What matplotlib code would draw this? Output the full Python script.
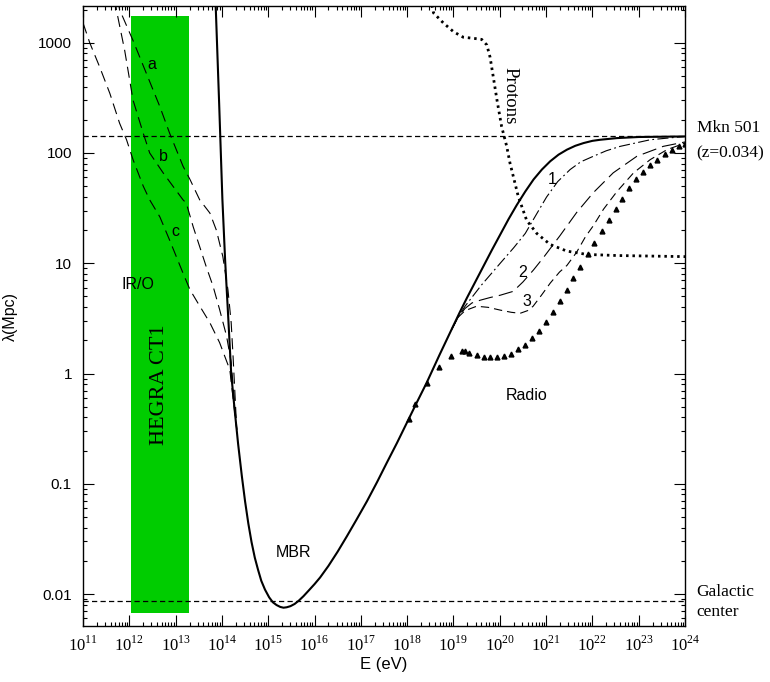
import numpy as np
import matplotlib.pyplot as plt
from matplotlib.ticker import FixedLocator, LogLocator, NullFormatter

plt.rcParams['font.family'] = 'Liberation Sans'
plt.rcParams['mathtext.fontset'] = 'custom'
plt.rcParams['mathtext.rm'] = 'Liberation Serif'

# ---------------- data: log10(E / eV) and log10(lambda / Mpc) ----------------
mbr_logE = [13.86, 13.94, 14.01, 14.07, 14.14, 14.20, 14.27, 14.35, 14.43, 14.50, 14.57, 14.64,
            14.71, 14.78, 14.85, 14.93, 15.02, 15.10, 15.18, 15.26, 15.33, 15.40, 15.48, 15.57,
            15.66, 15.76, 15.87, 16.0, 16.12, 16.3, 16.5, 16.7, 16.9, 17.13, 17.35, 17.56,
            17.78, 17.99, 18.2, 18.42, 18.7, 18.96, 19.13, 19.29, 19.47, 19.65, 19.83, 20.01,
            20.19, 20.37, 20.55, 20.73, 20.91, 21.09, 21.27, 21.45, 21.63, 21.81, 22.0, 22.17,
            22.53, 23.0, 24.0]
mbr_logL = [3.40, 2.45, 1.58, 1.02, 0.48, 0.00, -0.31, -0.64, -0.93, -1.16, -1.36, -1.53,
            -1.67, -1.78, -1.88, -1.96, -2.03, -2.075, -2.10, -2.117, -2.124, -2.12, -2.11, -2.09,
            -2.06, -2.02, -1.97, -1.91, -1.85, -1.745, -1.615, -1.475, -1.33, -1.16, -0.985, -0.81,
            -0.63, -0.45, -0.27, -0.085, 0.17, 0.40, 0.55, 0.685, 0.83, 0.975, 1.12, 1.26,
            1.40, 1.53, 1.65, 1.76, 1.85, 1.925, 1.985, 2.03, 2.065, 2.09, 2.11, 2.12,
            2.135, 2.145, 2.15]

# IR/O curves a, b, c
a_logE = [11.75, 11.79, 12.08, 12.37, 12.66, 12.87, 13.16, 13.31, 13.52, 13.74, 13.88, 14.02,
          14.13, 14.20, 14.24, 14.32]
a_logL = [3.40, 3.30, 3.02, 2.72, 2.42, 2.18, 1.88, 1.76, 1.575, 1.455, 1.30, 1.06,
          0.76, 0.46, 0.16, -0.51]
b_logE = [11.70, 11.72, 11.90, 12.08, 12.30, 12.44, 12.73, 12.94, 13.16, 13.23, 13.38, 13.52,
          13.66, 13.81, 13.95, 14.10, 14.20, 14.32]
b_logL = [3.40, 3.30, 2.93, 2.48, 2.18, 2.00, 1.82, 1.70, 1.575, 1.545, 1.33, 1.15,
          0.97, 0.79, 0.58, 0.34, 0.10, -0.51]
c_logE = [11.0, 11.145, 11.36, 11.58, 11.79, 11.94, 12.08, 12.30, 12.44, 12.66, 12.87, 13.16,
          13.31, 13.48, 13.74, 13.95, 14.17, 14.32]
c_logL = [3.18, 3.00, 2.78, 2.54, 2.27, 2.12, 1.94, 1.70, 1.575, 1.42, 1.21, 0.91,
          0.76, 0.64, 0.46, 0.28, 0.035, -0.51]

# radio background curves 1, 2, 3
r1_logE = [18.96, 19.1, 19.25, 19.6, 20.01, 20.3, 20.55, 20.8, 21.01, 21.25, 21.52, 21.75,
           22.02, 22.3, 22.6, 23.25, 24.0]
r1_logL = [0.40, 0.51, 0.61, 0.80, 1.00, 1.14, 1.27, 1.45, 1.60, 1.74, 1.85, 1.92,
           1.97, 2.02, 2.06, 2.12, 2.15]
r2_logE = [18.96, 19.1, 19.25, 19.4, 19.58, 19.8, 20.01, 20.29, 20.5, 20.73, 20.94, 21.12,
           21.30, 21.66, 22.02, 22.45, 22.96, 23.53, 24.0]
r2_logL = [0.40, 0.51, 0.59, 0.64, 0.665, 0.69, 0.71, 0.745, 0.83, 0.94, 1.05, 1.15,
           1.25, 1.46, 1.64, 1.82, 1.97, 2.06, 2.10]
r3_logE = [18.96, 19.1, 19.25, 19.5, 19.75, 20.01, 20.25, 20.44, 20.6, 20.72, 20.9, 21.09,
           21.29, 21.45, 21.66, 21.85, 22.02, 22.24, 22.53, 22.89, 23.25, 23.61, 24.0]
r3_logL = [0.40, 0.51, 0.57, 0.61, 0.60, 0.575, 0.555, 0.546, 0.57, 0.61, 0.71, 0.82,
           0.92, 0.98, 1.10, 1.24, 1.34, 1.49, 1.65, 1.82, 1.94, 2.03, 2.09]

# radio (triangles)
tri_logE = [18.03, 18.17, 18.42, 18.69, 18.94, 19.19, 19.24, 19.34, 19.50, 19.65, 19.79, 19.94,
            20.10, 20.25, 20.40, 20.54, 20.69, 20.84, 20.99, 21.14, 21.29, 21.45, 21.59, 21.74,
            21.90, 22.04, 22.20, 22.35, 22.50, 22.65, 22.80, 22.94, 23.09, 23.25, 23.39, 23.57,
            23.71, 23.86, 24.0]
tri_logL = [-0.41, -0.28, -0.09, 0.06, 0.16, 0.20, 0.20, 0.19, 0.17, 0.15, 0.15, 0.15,
            0.16, 0.18, 0.22, 0.26, 0.32, 0.39, 0.47, 0.56, 0.66, 0.76, 0.87, 0.97,
            1.08, 1.18, 1.29, 1.39, 1.49, 1.58, 1.68, 1.76, 1.83, 1.89, 1.94, 1.99,
            2.03, 2.06, 2.08]

# protons
p_logE = [18.50, 18.57, 18.78, 19.0, 19.21, 19.43, 19.61, 19.72, 19.79, 19.86, 19.94, 20.04,
          20.15, 20.22, 20.40, 20.58, 20.80, 21.09, 21.45, 21.88, 22.53, 24.0]
p_logL = [3.40, 3.27, 3.18, 3.10, 3.05, 3.04, 3.03, 2.98, 2.87, 2.69, 2.48, 2.24,
          2.06, 1.91, 1.605, 1.39, 1.27, 1.17, 1.11, 1.08, 1.07, 1.06]

# HEGRA CT1 energy band and its drawn height
hegra_E = [1.1e12, 1.95e13]
hegra_lam = [0.0067, 1745]

mkn501_dist = 142.0      # Mpc, z = 0.034
galactic_dist = 0.0086   # Mpc

xticks_exp = list(range(11, 25))
yticks_val = [0.01, 0.1, 1, 10, 100, 1000]
yticks_lab = ['0.01', '0.1', '1', '10', '100', '1000']

# ---------------- figure ----------------
def pw(v):
    return 10 ** np.asarray(v, dtype=float)

fig = plt.figure(figsize=(7.7, 6.82), dpi=100)
ax = fig.add_axes([0.1078, 0.0821, 0.7818, 0.9091])
ax.set_xscale('log')
ax.set_yscale('log')
ax.set_xlim(1e11, 1e24)
ax.set_ylim(10 ** -2.29, 10 ** 3.333)

ax.fill_between(hegra_E, hegra_lam[0], hegra_lam[1], color='#00cc00', lw=0, zorder=1)

ax.axhline(mkn501_dist, color='k', lw=0.9, ls=(0, (4.2, 2.6)), zorder=2)
ax.axhline(galactic_dist, color='k', lw=0.9, ls=(0, (4.2, 2.6)), zorder=2)

ax.plot(pw(mbr_logE), pw(mbr_logL), color='k', lw=1.5, zorder=4)
for xe, yl in [(a_logE, a_logL), (b_logE, b_logL), (c_logE, c_logL)]:
    ax.plot(pw(xe), pw(yl), color='k', lw=0.8, ls=(0, (10, 5.5)), zorder=3)

ax.plot(pw(r1_logE), pw(r1_logL), color='k', lw=0.8, ls=(0, (10, 3, 1.6, 3)), zorder=3)
ax.plot(pw(r2_logE), pw(r2_logL), color='k', lw=0.8, ls=(0, (13, 5.5)), zorder=3)
ax.plot(pw(r3_logE), pw(r3_logL), color='k', lw=0.8, ls=(0, (7.5, 4.5)), zorder=3)
ax.plot(pw(tri_logE), pw(tri_logL), ls='none', marker='^', ms=3.5, color='k', zorder=4)
ax.plot(pw(p_logE), pw(p_logL), color='k', lw=2.0, ls=(0, (0.9, 1.4)), zorder=3)

# ---------------- axes styling ----------------
ax.xaxis.set_major_locator(FixedLocator([10.0 ** e for e in xticks_exp]))
ax.set_xticklabels(['10$^{%d}$' % e for e in xticks_exp], fontfamily='Liberation Serif', fontsize=12)
ax.xaxis.set_minor_locator(LogLocator(base=10, subs=np.arange(2, 10), numticks=50))
ax.xaxis.set_minor_formatter(NullFormatter())
ax.yaxis.set_major_locator(FixedLocator(yticks_val))
ax.set_yticklabels(yticks_lab, fontsize=11)
ax.yaxis.set_minor_locator(LogLocator(base=10, subs=np.arange(2, 10), numticks=50))
ax.yaxis.set_minor_formatter(NullFormatter())
ax.tick_params(which='both', direction='in', top=True, right=True, width=0.8)
ax.tick_params(which='major', length=8)
ax.tick_params(which='minor', length=3.2)
ax.tick_params(axis='y', which='major', pad=8)
ax.tick_params(axis='x', which='major', pad=7)
for s in ax.spines.values():
    s.set_linewidth(1.0)

ax.set_xlabel('E (eV)', fontsize=12)
ax.xaxis.set_label_coords(0.5, -0.05)
ax.set_ylabel('λ(Mpc)', fontsize=11.5)
ax.yaxis.set_label_coords(-0.108, 0.5)

# ---------------- annotations ----------------
sans = dict(ha='center', va='center', fontsize=11.5)
ax.text(10 ** 12.49, 10 ** 2.80, 'a', **sans)
ax.text(10 ** 12.73, 10 ** 1.97, 'b', **sans)
ax.text(10 ** 12.99, 10 ** 1.29, 'c', **sans)
ax.text(10 ** 12.19, 10 ** 0.81, 'IR/O', **sans)
ax.text(10 ** 15.54, 10 ** -1.62, 'MBR', **sans)
ax.text(10 ** 20.57, 10 ** -0.195, 'Radio', **sans)
ax.text(10 ** 21.13, 10 ** 1.755, '1', **sans)
ax.text(10 ** 20.50, 10 ** 0.92, '2', **sans)
ax.text(10 ** 20.59, 10 ** 0.65, '3', **sans)

serif = dict(fontfamily='Liberation Serif')
ax.text(10 ** 12.66, 10 ** -0.105, 'HEGRA CT1', rotation=90, ha='center', va='center',
        fontsize=16, **serif)
ax.text(10 ** 20.22, 10 ** 2.517, 'Protons', rotation=-90, ha='center', va='center',
        fontsize=13.5, **serif)
ax.text(10 ** 24.25, 10 ** 2.227, 'Mkn 501', ha='left', va='center', fontsize=12.5,
        clip_on=False, **serif)
ax.text(10 ** 24.25, 10 ** 2.0, '(z=0.034)', ha='left', va='center', fontsize=12.5,
        clip_on=False, **serif)
ax.text(10 ** 24.25, 10 ** -1.985, 'Galactic', ha='left', va='center', fontsize=12.5,
        clip_on=False, **serif)
ax.text(10 ** 24.25, 10 ** -2.16, 'center', ha='left', va='center', fontsize=12.5,
        clip_on=False, **serif)

fig.savefig('out.png', dpi=100)
